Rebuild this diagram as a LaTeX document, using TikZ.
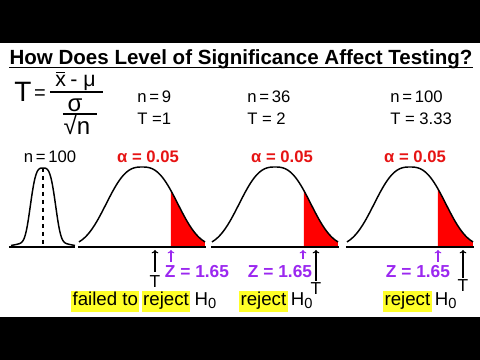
\documentclass[tikz,border=0pt]{standalone}
\usepackage{fontspec}
\setmainfont{Liberation Sans}
\usetikzlibrary{positioning,calc,arrows.meta}
\definecolor{zviolet}{RGB}{155,40,240}
\definecolor{alphared}{RGB}{230,20,20}
\definecolor{hiyellow}{RGB}{255,255,40}
\newcommand{\fsz}[1]{\fontsize{#1}{#1}\selectfont}
\newcommand{\Hnull}{H\raisebox{-0.3ex}{\fsz{11}0}}

\begin{document}
\begin{tikzpicture}[x=0.75pt,y=-0.75pt,
  every node/.style={inner sep=0pt},
  >={To[length=2.5pt,width=5pt]},
  lbl/.style={font=\fsz{12.5}},
  alph/.style={font=\bfseries\fsz{12.5},text=alphared,anchor=base},
  zlbl/.style={font=\bfseries\fsz{13},text=zviolet,anchor=base},
  tlbl/.style={font=\fsz{13},anchor=base},
  hilite/.style={fill=hiyellow,inner sep=1pt,text height=10pt,text depth=3.5pt,font=\fsz{14}},
  verdict/.style={font=\fsz{14}}]
\useasboundingbox (0,0) rectangle (480,360);
\fill[white] (0,0) rectangle (480,360);
\fill[black] (0,0) rectangle (480,43);
\fill[black] (0,317) rectangle (480,360);
% title
\node[font=\bfseries\fsz{15.4},anchor=base] (title) at (241,65) {How Does Level of Significance Affect Testing?};
\draw[line width=1.3pt] ($(title.south west)+(0,-2)$) -- ($(title.south east)+(0,-2)$);
% test statistic
\node[font=\fsz{21},anchor=base west] (tlhs) at (14,102) {T\kern2pt\raisebox{2pt}{\fsz{15}=}};
\node[font=\fsz{16},anchor=base west] (numx) at (55,87) {x};
\node[font=\fsz{16},base right=3pt of numx] (numrest) {- μ};
\draw[line width=0.9pt] ($(numx.north west)+(1,-3)$) -- ($(numx.north east)+(-1,-3)$);
\draw[line width=1.1pt] (50,92) -- (103,92);
\node[font=\fsz{18},anchor=base] (sig) at (75,112) {σ};
\draw[line width=1.1pt] (63,114) -- (97,114);
\node[font=\fsz{18},anchor=base] (rootn) at (77,135) {√n};
% sample sizes
\node[lbl,anchor=base west] (nA) at (137,103) {n\,=\,9};
\node[lbl,anchor=base west] (tA) at (137,125) {T =1};
\node[lbl,anchor=base west] (nB) at (247,103) {n\,=\,36};
\node[lbl,anchor=base west] (tB) at (247,125) {T = 2};
\node[lbl,anchor=base west] (nC) at (390,103) {n\,=\,100};
\node[lbl,anchor=base west] (tC) at (390,125) {T = 3.33};
% narrow curve, n=100
\node[lbl,anchor=base] (nbig) at (50,163) {n\,=\,100};
\draw[line width=1.5pt] (9,247) -- (75,247);
\draw[line width=1.1pt] plot[domain=11:75,samples=100] (\x,{247-79*(0.9*exp(-((abs(\x-43)+0.01)/14)^3.5)+0.1*exp(-((\x-43)/25)^2))});
\draw[dashed,line width=0.8pt] (43,168) -- (43,247);
% three test curves
\foreach \cx/\rx in {142/171, 275/304, 410/438}{
  \fill[red] (\rx,247) -- plot[domain=\rx:\cx+63,samples=30] (\x,{247-80*exp(-((abs(\x-\cx)+0.01)/43)^2.65)}) -- (\cx+63,247) -- cycle;
  \draw[line width=1.5pt] (\cx-64,247) -- (\cx+64,247);
  \draw[line width=1.1pt] plot[domain=\cx-63:\cx+63,samples=90] (\x,{247-80*exp(-((abs(\x-\cx)+0.01)/43)^2.65)});
}
\node[alph] (alA) at (148,163) {α = 0.05};
\node[alph] (alB) at (282,163) {α = 0.05};
\node[alph] (alC) at (415,163) {α = 0.05};
% critical values
\node[zlbl] (zA) at (197,278) {Z = 1.65};
\node[zlbl] (zB) at (280,278) {Z = 1.65};
\node[zlbl] (zC) at (418,278) {Z = 1.65};
\coordinate (zbotA) at (171,262); \coordinate (ztopA) at (171,250);
\coordinate (zbotB) at (303,259); \coordinate (ztopB) at (303,250);
\coordinate (zbotC) at (438,262); \coordinate (ztopC) at (438,250);
\draw[->,zviolet,line width=0.8pt] (zbotA) -- (ztopA);
\draw[->,zviolet,line width=0.8pt] (zbotB) -- (ztopB);
\draw[->,zviolet,line width=0.8pt] (zbotC) -- (ztopC);
% statistic values
\node[tlbl] (stA) at (155,288) {T};
\node[tlbl] (stB) at (316,295) {T};
\node[tlbl] (stC) at (463,292) {T};
\coordinate (sttopA) at (155,250);
\coordinate (sttopB) at (316,250);
\coordinate (sttopC) at (463,250);
\draw[->,line width=0.8pt,shorten <=3pt] (stA.north) -- (sttopA);
\draw[->,line width=0.8pt,shorten <=1.5pt] (stB.north) -- (sttopB);
\draw[->,line width=0.8pt,shorten <=1.5pt] (stC.north) -- (sttopC);
% decisions
\node[hilite,anchor=base west] (failA) at (71,306) {failed to};
\node[hilite,base right=1.5pt of failA] (rejA) {reject};
\node[verdict,base right=3pt of rejA] (hA) {\Hnull};
\node[hilite,anchor=base west] (rejB) at (239,306) {reject};
\node[verdict,base right=2pt of rejB] (hB) {\Hnull};
\node[hilite,anchor=base west] (rejC) at (383,306) {reject};
\node[verdict,base right=2pt of rejC] (hC) {\Hnull};
\end{tikzpicture}
\end{document}
